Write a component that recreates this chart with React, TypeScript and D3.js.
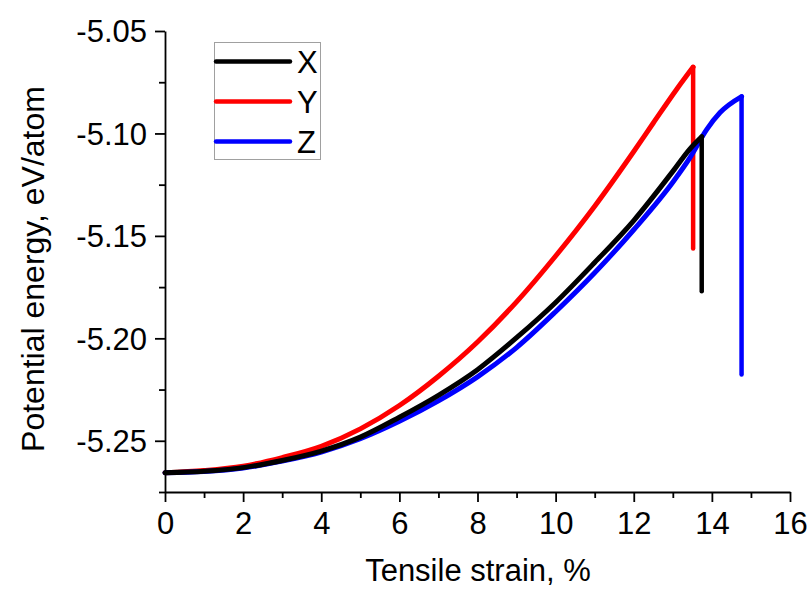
import * as d3 from "d3";
import React, { useEffect, useRef } from "react";

// strain (%) and potential energy (eV/atom)
const strainX = [0, 1, 2, 3, 4, 5, 6, 7, 8, 9, 10, 11, 12, 13, 13.44, 13.74];
const energyX = [-5.2656, -5.2649, -5.2631, -5.2596, -5.255, -5.2482, -5.2385, -5.2278, -5.2153, -5.1997, -5.1825, -5.163, -5.1425, -5.1185, -5.1075, -5.1016];
const fractureX = -5.177;

const strainY = [0, 1, 2, 3, 4, 5, 6, 7, 8, 9, 10, 11, 12, 12.5, 13.1, 13.52];
const energyY = [-5.2656, -5.2645, -5.2624, -5.2582, -5.2527, -5.2442, -5.2328, -5.2185, -5.2018, -5.1822, -5.1598, -5.1355, -5.1088, -5.0949, -5.0784, -5.0676];
const fractureY = -5.1562;

const strainZ = [0, 1, 2, 3, 4, 5, 6, 7, 8, 9, 10, 11, 12, 13, 13.44, 13.87, 14.21, 14.76];
const energyZ = [-5.2656, -5.265, -5.2633, -5.2599, -5.2555, -5.249, -5.2405, -5.2305, -5.2188, -5.2045, -5.187, -5.168, -5.147, -5.1238, -5.1118, -5.098, -5.0898, -5.082];
const fractureZ = -5.2177;

const seriesNames = ["X", "Y", "Z"];
const seriesColors = ["#000000", "#ff0000", "#0000ff"];

const xMajor = [0, 2, 4, 6, 8, 10, 12, 14, 16];
const xMinor = [1, 3, 5, 7, 9, 11, 13, 15];
const yMajor = [-5.25, -5.2, -5.15, -5.1, -5.05];
const yMinor = [-5.275, -5.225, -5.175, -5.125, -5.075];

const App = () => {
    const svgRef = useRef<SVGSVGElement>(null);

    useEffect(() => {
        const width = 809;
        const height = 589;
        const font = "'Liberation Sans', Arial, sans-serif";

        const svg = d3.select(svgRef.current);
        svg.selectAll("*").remove();
        svg.attr("width", width).attr("height", height);

        const x = d3.scaleLinear().domain([0, 16]).range([165, 790]);
        const y = d3.scaleLinear().domain([-5.275, -5.05]).range([492, 31]);

        const series = [
            { xs: strainX, ys: energyX, drop: fractureX },
            { xs: strainY, ys: energyY, drop: fractureY },
            { xs: strainZ, ys: energyZ, drop: fractureZ },
        ];

        const line = d3.line<[number, number]>()
            .x(d => x(d[0]))
            .y(d => y(d[1]))
            .curve(d3.curveMonotoneX);
        const straight = d3.line<[number, number]>()
            .x(d => x(d[0]))
            .y(d => y(d[1]));

        // draw order: Y, Z, X (black on top)
        [1, 2, 0].forEach(i => {
            const s = series[i];
            const pts: [number, number][] = s.xs.map((v, j) => [v, s.ys[j]]);
            const last = pts[pts.length - 1];
            svg.append("path")
                .attr("d", line(pts))
                .attr("fill", "none")
                .attr("stroke", seriesColors[i])
                .attr("stroke-width", 5)
                .attr("stroke-linejoin", "round")
                .attr("stroke-linecap", "round");
            svg.append("path")
                .attr("d", straight([last, [last[0], s.drop]]))
                .attr("fill", "none")
                .attr("stroke", seriesColors[i])
                .attr("stroke-width", 4.5)
                .attr("stroke-linejoin", "round")
                .attr("stroke-linecap", "round");
        });

        // X axis
        const gx = svg.append("g").attr("transform", "translate(0,492)");
        gx.call(d3.axisBottom(x).tickValues(xMinor).tickSize(6).tickSizeOuter(0).tickFormat(() => ""));
        gx.call(g => g.select(".domain").remove());
        const gx2 = svg.append("g").attr("transform", "translate(0,492)");
        gx2.call(d3.axisBottom(x).tickValues(xMajor).tickSize(10).tickSizeOuter(0).tickFormat(d => String(d)));

        // Y axis
        const gy = svg.append("g").attr("transform", "translate(165,0)");
        gy.call(d3.axisLeft(y).tickValues(yMinor).tickSize(6).tickSizeOuter(0).tickFormat(() => ""));
        gy.call(g => g.select(".domain").remove());
        const gy2 = svg.append("g").attr("transform", "translate(165,0)");
        gy2.call(d3.axisLeft(y).tickValues(yMajor).tickSize(10).tickSizeOuter(0).tickFormat(d => (+d).toFixed(2)));

        svg.selectAll(".domain, .tick line").attr("stroke", "#000").attr("stroke-width", 1.8);
        gx2.selectAll(".tick text")
            .attr("font-family", font).attr("font-size", 31).attr("fill", "#000")
            .attr("y", 0).attr("dy", 0).attr("transform", "translate(0,42)");
        gy2.selectAll(".tick text")
            .attr("font-family", font).attr("font-size", 31).attr("fill", "#000")
            .attr("x", -18).attr("dy", "0.35em");

        // Axis titles
        svg.append("text")
            .attr("x", 478).attr("y", 581)
            .attr("text-anchor", "middle")
            .attr("font-family", font).attr("font-size", 31)
            .text("Tensile strain, %");
        svg.append("text")
            .attr("transform", "translate(44,269) rotate(-90)")
            .attr("text-anchor", "middle")
            .attr("font-family", font).attr("font-size", 32)
            .text("Potential energy, eV/atom");

        // Legend
        const lg = svg.append("g");
        lg.append("rect")
            .attr("x", 214.5).attr("y", 42.5).attr("width", 106).attr("height", 117)
            .attr("fill", "#fff").attr("stroke", "#a0a0a0").attr("stroke-width", 1);
        seriesNames.forEach((name, i) => {
            const ly = 61.5 + i * 40;
            lg.append("line")
                .attr("x1", 216).attr("x2", 290).attr("y1", ly).attr("y2", ly)
                .attr("stroke", seriesColors[i]).attr("stroke-width", 4.5)
                .attr("stroke-linecap", "round");
            lg.append("text")
                .attr("x", 297).attr("y", ly).attr("dy", "0.36em")
                .attr("font-family", font).attr("font-size", 31)
                .text(name);
        });
    }, []);

    return (
        <svg ref={svgRef} style={{ position: "absolute", left: 0, top: 0, background: "#fff" }} />
    );
};

export default App;
